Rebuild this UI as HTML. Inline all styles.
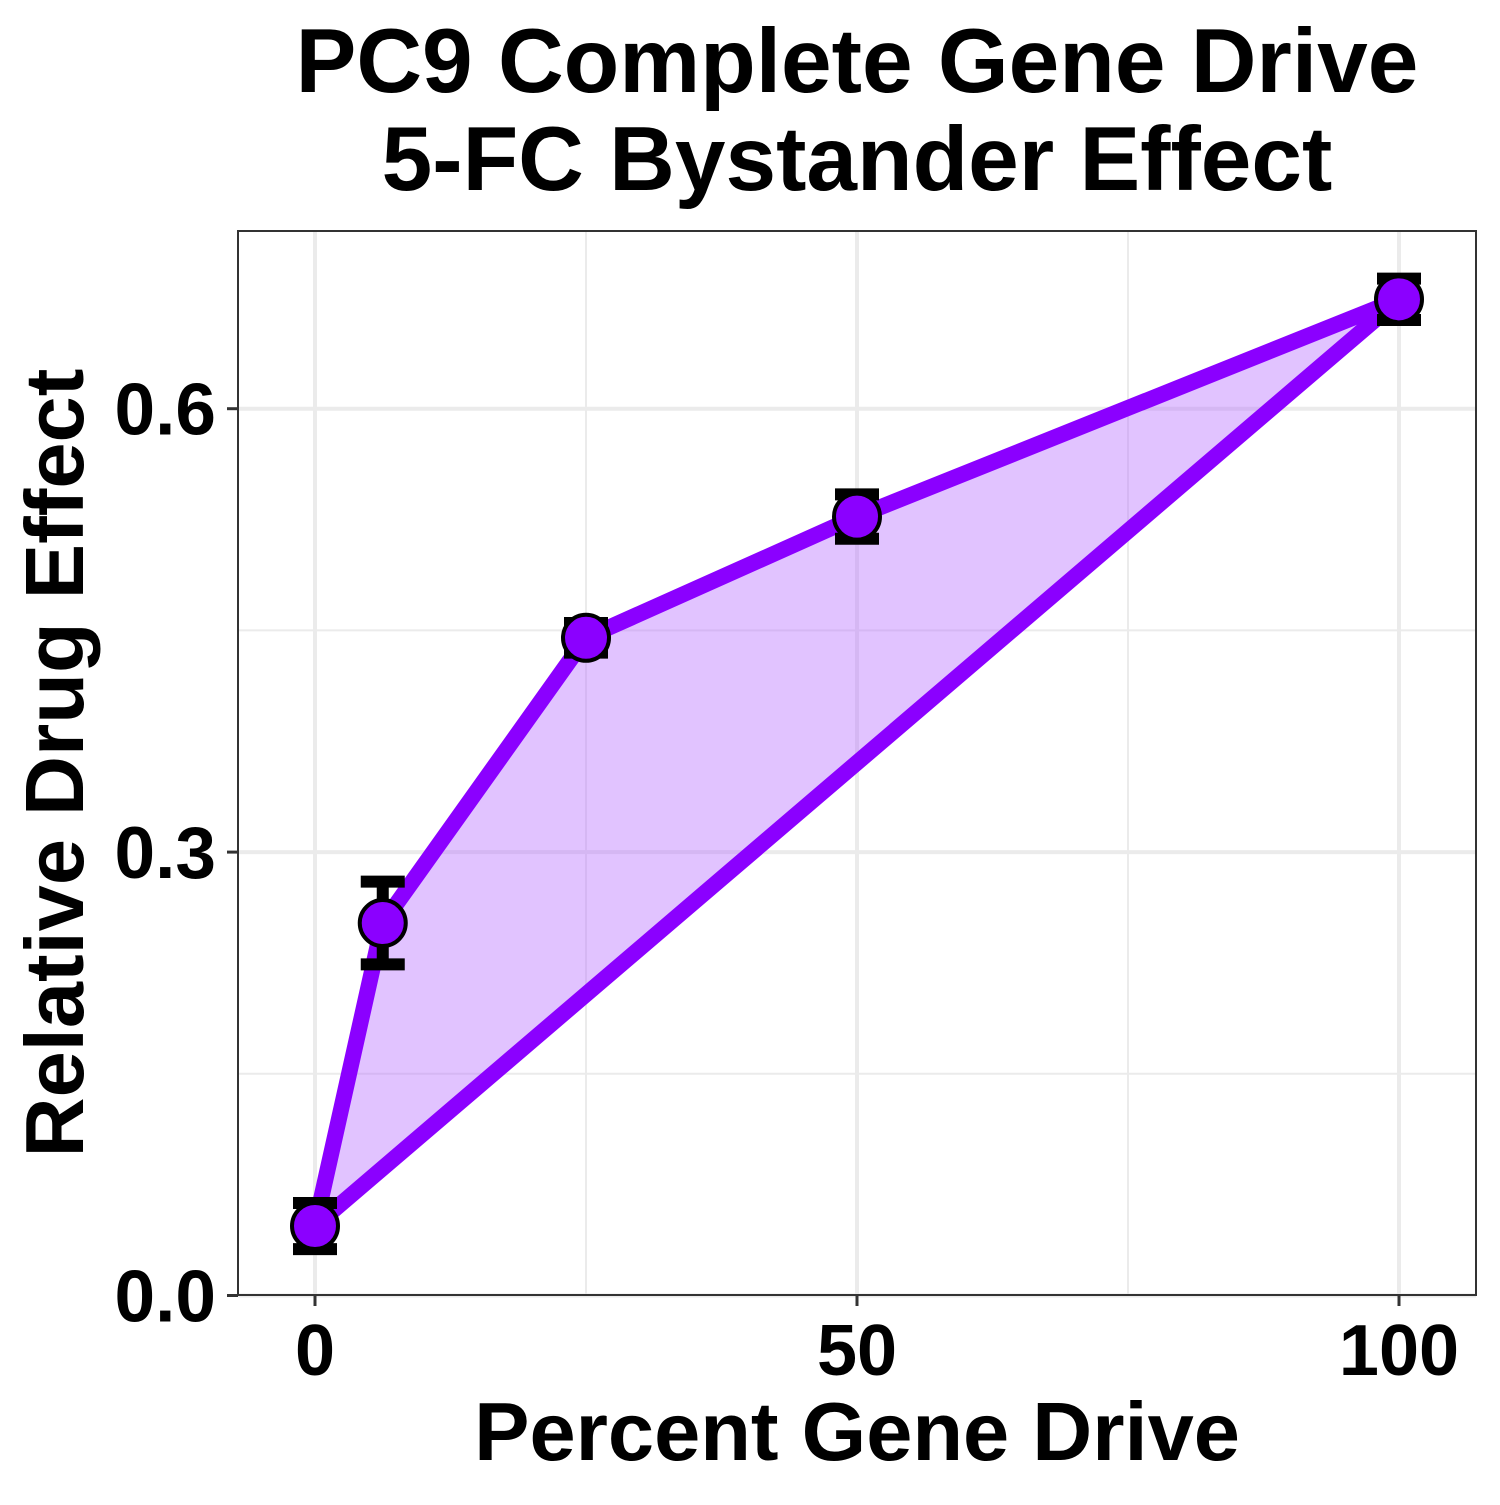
<!DOCTYPE html>
<html><head><meta charset="utf-8"><style>
body{margin:0;background:#fff}
svg text{font-family:"Liberation Sans",Arial,sans-serif;font-weight:bold;fill:#000}
</style></head><body>
<svg id="chart" width="1500" height="1500" xmlns="http://www.w3.org/2000/svg">
<rect width="1500" height="1500" fill="#fff"/>
<text x="857" y="92" font-size="91" text-anchor="middle">PC9 Complete Gene Drive</text>
<text x="857" y="190" font-size="91" text-anchor="middle">5-FC Bystander Effect</text>
<g id="grid"></g>
<g id="marks"></g>
<rect x="238" y="231" width="1238" height="1064" fill="none" stroke="#333" stroke-width="2"/>
<g id="axes"></g>
<text x="857" y="1460" font-size="83" text-anchor="middle">Percent Gene Drive</text>
<text transform="translate(83,763) rotate(-90)" font-size="83" text-anchor="middle">Relative Drug Effect</text>
</svg>
<script>
const xs=[0,6.25,25,50,100];
const ys=[0.047,0.252,0.445,0.527,0.674];
const errs=[0.0156,0.028,0.01,0.015,0.014];
const xTicks=[0,50,100];
const yTicks=[0,0.3,0.6];
const yTickLabels=["0.0","0.3","0.6"];
const xMinor=[25,75];
const yMinor=[0.15,0.45];
const ns="http://www.w3.org/2000/svg";
const X=v=>315+v*10.84, Y=v=>1295.5-v*1478;
function mk(t,a,p){const e=document.createElementNS(ns,t);for(const k in a)e.setAttribute(k,a[k]);p.appendChild(e);return e;}
const grid=document.getElementById('grid'),marks=document.getElementById('marks'),axes=document.getElementById('axes');
xMinor.forEach(v=>{const l=mk('line',{x1:X(v),x2:X(v),y1:231,y2:1295,stroke:'#ebebeb','stroke-width':2},grid);});
yMinor.forEach(v=>{const l=mk('line',{x1:238,x2:1476,y1:Y(v),y2:Y(v),stroke:'#ebebeb','stroke-width':2},grid);});
xTicks.forEach(v=>{const l=mk('line',{x1:X(v),x2:X(v),y1:231,y2:1295,stroke:'#ebebeb','stroke-width':4},grid);
const t=mk('line',{x1:X(v),x2:X(v),y1:1295,y2:1306,stroke:'#333','stroke-width':3},axes);
const tx=mk('text',{x:X(v),y:1375,'font-size':72,'text-anchor':'middle'},axes);tx.textContent=v;});
yTicks.forEach((v,i)=>{const l=mk('line',{x1:238,x2:1476,y1:Y(v),y2:Y(v),stroke:'#ebebeb','stroke-width':4},grid);
const t=mk('line',{x1:227,x2:238,y1:Y(v),y2:Y(v),stroke:'#333','stroke-width':3},axes);
const tx=mk('text',{x:216,y:Y(v)+26,'font-size':73,'text-anchor':'end'},axes);tx.textContent=yTickLabels[i];});
const n=xs.length;
const lin=v=>ys[0]+(ys[n-1]-ys[0])*(v-xs[0])/(xs[n-1]-xs[0]);
let pts=xs.map((v,i)=>X(v)+','+Y(ys[i]));
let fillPts=pts.concat(xs.slice().reverse().map(v=>X(v)+','+Y(lin(v))));
const area=mk('polygon',{points:fillPts.join(' '),fill:'#B870FF','fill-opacity':0.42},marks);

const lower=mk('line',{x1:X(xs[0]),y1:Y(ys[0]),x2:X(xs[n-1]),y2:Y(ys[n-1]),stroke:'#8B00FF','stroke-width':16,'stroke-linecap':'round'},marks);

const upper=mk('polyline',{points:pts.join(' '),fill:'none',stroke:'#8B00FF','stroke-width':16,'stroke-linejoin':'round'},marks);

xs.forEach((v,i)=>{const g=mk('g',{},marks);
const cx=X(v),t=Y(ys[i]+errs[i]),b=Y(ys[i]-errs[i]);
mk('line',{x1:cx,x2:cx,y1:t,y2:b,stroke:'#000','stroke-width':12},g);
mk('line',{x1:cx-22,x2:cx+22,y1:t,y2:t,stroke:'#000','stroke-width':12},g);
mk('line',{x1:cx-22,x2:cx+22,y1:b,y2:b,stroke:'#000','stroke-width':12},g);});
xs.forEach((v,i)=>{const c=mk('circle',{cx:X(v),cy:Y(ys[i]),r:23,fill:'#8B00FF',stroke:'#000','stroke-width':4},marks);
});
</script>
</body></html>
